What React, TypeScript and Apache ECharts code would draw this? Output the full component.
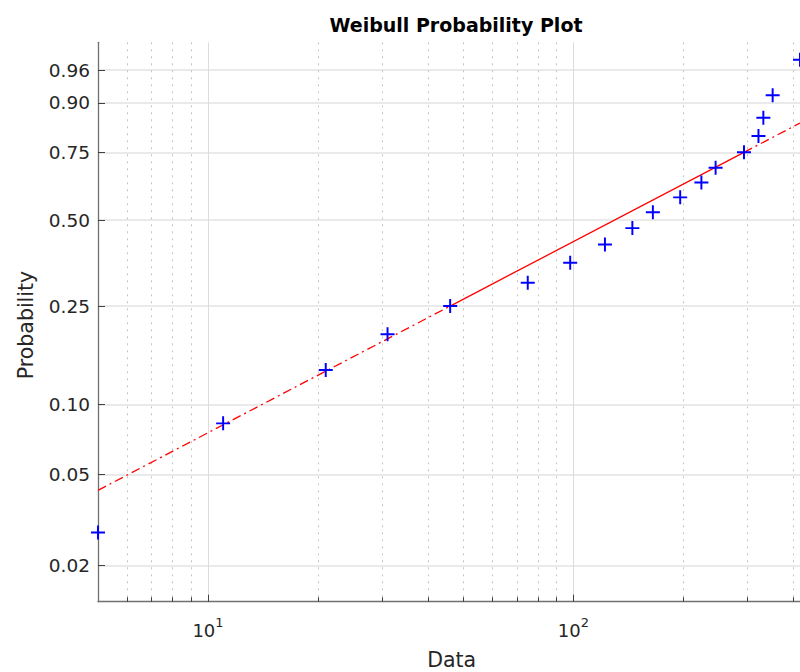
import React, { useEffect, useRef } from "react";
import * as echarts from "echarts";

// ---- data ----
const dataValues = [5, 11, 21, 31, 46, 75, 98, 122, 145, 165, 196, 224, 245, 293, 321, 331, 351, 417];
const probabilities = [
  0.028, 0.083, 0.139, 0.194, 0.25, 0.306, 0.361, 0.417, 0.472,
  0.528, 0.583, 0.639, 0.694, 0.75, 0.806, 0.861, 0.917, 0.972,
];
// reference line passes through the data quartiles
const fitDataQuartiles = [46, 293];
const fitProbQuartiles = [0.25, 0.75];

const xRange = [5, 417];
const probRange = [0.01388, 0.98607];

const yTickProbs = [0.02, 0.05, 0.1, 0.25, 0.5, 0.75, 0.9, 0.96];
const xMajorTicks = [10, 100];
const xMinorTicks = [6, 7, 8, 9, 20, 30, 40, 50, 60, 70, 80, 90, 200, 300, 400];

const titleText = "Weibull Probability Plot";
const xName = "Data";
const yName = "Probability";

// ---- scale helpers ----
const lx = (v: number) => Math.log10(v);
const wb = (p: number) => Math.log(-Math.log(1 - p));
const wbInv = (w: number) => 1 - Math.exp(-Math.exp(w));

const FONT = "DejaVu Sans";
const TXT = "#262626";

export default function App() {
  const ref = useRef<HTMLDivElement>(null);

  useEffect(() => {
    if (!ref.current) return;
    const chart = echarts.init(ref.current, undefined, { renderer: "svg" });

    const x0 = lx(xRange[0]);
    const x1 = lx(xRange[1]);
    const qa: [number, number] = [lx(fitDataQuartiles[0]), wb(fitProbQuartiles[0])];
    const qb: [number, number] = [lx(fitDataQuartiles[1]), wb(fitProbQuartiles[1])];
    const slope = (qb[1] - qa[1]) / (qb[0] - qa[0]);
    const lineAt = (x: number): [number, number] => [x, qa[1] + slope * (x - qa[0])];

    const redSolid = { color: "#ff0000", width: 1.3, type: "solid" as any };
    const redDashDot = { color: "#ff0000", width: 1.3, type: [9, 4, 2, 4] as any };

    const axisLineStyle = { color: "#707070", width: 1.3 };

    const option: any = {
      animation: false,
      backgroundColor: "#ffffff",
      textStyle: { fontFamily: FONT },
      title: {
        text: titleText,
        left: 456,
        top: 15,
        padding: 0,
        textAlign: "center",
        textStyle: { fontFamily: FONT, fontSize: 19, fontWeight: "bold", color: "#000000" },
      },
      grid: { left: 98, top: 42.3, right: -0.5, bottom: 70.3, containLabel: false },
      xAxis: [
        {
          type: "value",
          min: x0,
          max: x1,
          position: "bottom",
          axisLine: { show: true, onZero: false, lineStyle: axisLineStyle },
          axisTick: {
            show: true,
            inside: true,
            length: 7,
            customValues: xMajorTicks.map(lx),
            lineStyle: { color: "#404040", width: 1 },
          },
          splitLine: { show: true, lineStyle: { color: "#dcdcdc", width: 1 } },
          axisLabel: {
            show: true,
            customValues: xMajorTicks.map(lx),
            margin: 14,
            formatter: (v: number) => "{b|10}{s|" + Math.round(v) + "}",
            rich: {
              b: { fontFamily: FONT, fontSize: 18, color: TXT, lineHeight: 30 },
              s: { fontFamily: FONT, fontSize: 13, color: TXT, lineHeight: 17, verticalAlign: "top" },
            },
          },
        },
        {
          type: "value",
          min: x0,
          max: x1,
          position: "bottom",
          axisLine: { show: false, onZero: false },
          axisTick: {
            show: true,
            inside: true,
            length: 4.5,
            customValues: xMinorTicks.map(lx),
            lineStyle: { color: "#404040", width: 1 },
          },
          splitLine: { show: true, lineStyle: { color: "#c4c4c4", width: 1, type: [2, 5] } },
          axisLabel: { show: false },
        },
      ],
      yAxis: {
        type: "value",
        min: wb(probRange[0]),
        max: wb(probRange[1]),
        axisLine: { show: true, onZero: false, lineStyle: axisLineStyle },
        axisTick: {
          show: true,
          inside: true,
          length: 7,
          customValues: yTickProbs.map(wb),
          lineStyle: { color: "#404040", width: 1 },
        },
        splitLine: { show: true, lineStyle: { color: "#e3e3e3", width: 1.5 } },
        axisLabel: {
          show: true,
          customValues: yTickProbs.map(wb),
          margin: 8,
          fontFamily: FONT,
          fontSize: 18.5,
          color: TXT,
          formatter: (v: number) => wbInv(v).toFixed(2),
        },
      },
      graphic: [
        {
          type: "text",
          x: 26,
          y: 325,
          rotation: Math.PI / 2,
          style: {
            text: yName,
            fontFamily: FONT,
            fontSize: 20.5,
            fill: TXT,
            textAlign: "center",
            textVerticalAlign: "middle",
          },
        },
        {
          type: "text",
          x: 451.7,
          y: 660,
          style: {
            text: xName,
            fontFamily: FONT,
            fontSize: 20.5,
            fill: TXT,
            textAlign: "center",
            textVerticalAlign: "middle",
          },
        },
      ],
      series: [
        {
          type: "line",
          name: "fit-low",
          xAxisIndex: 0,
          data: [lineAt(x0), qa],
          showSymbol: false,
          symbol: "none",
          lineStyle: redDashDot,
          z: 3,
        },
        {
          type: "line",
          name: "fit",
          xAxisIndex: 0,
          data: [qa, qb],
          showSymbol: false,
          symbol: "none",
          lineStyle: redSolid,
          z: 3,
        },
        {
          type: "line",
          name: "fit-high",
          xAxisIndex: 0,
          data: [qb, lineAt(x1)],
          showSymbol: false,
          symbol: "none",
          lineStyle: redDashDot,
          z: 3,
        },
        {
          type: "scatter",
          name: "data",
          xAxisIndex: 0,
          data: dataValues.map((d, i) => [lx(d), wb(probabilities[i])]),
          symbol: "path://M43,0h14v43h43v14h-43v43h-14v-43h-43v-14h43z",
          symbolSize: 14,
          itemStyle: { color: "#0000ff", opacity: 1 },
          clip: false,
          z: 5,
        },
      ],
    };

    chart.setOption(option);
    return () => chart.dispose();
  }, []);

  return (
    <div
      ref={ref}
      style={{ position: "fixed", left: 0, top: 0, width: 800, height: 672, background: "#fff" }}
    />
  );
}
